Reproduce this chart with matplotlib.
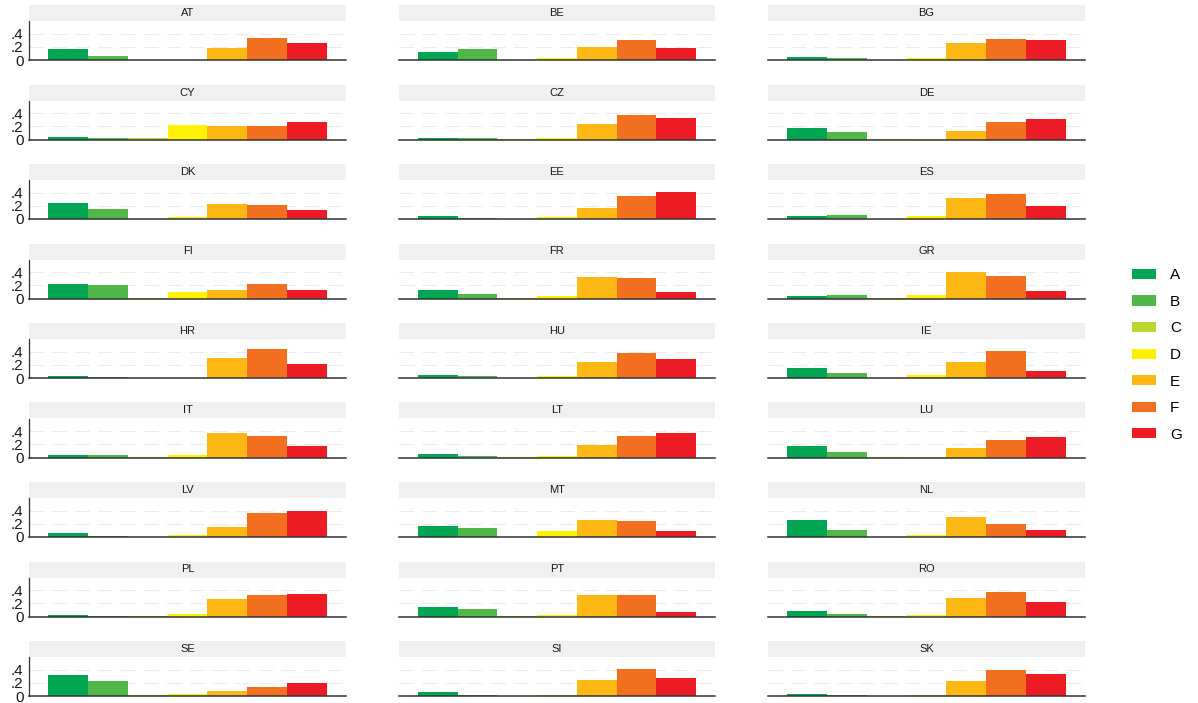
import matplotlib

matplotlib.use("Agg")
import matplotlib.pyplot as plt
from matplotlib.patches import Patch, Rectangle
from matplotlib.ticker import FixedLocator, FuncFormatter

plt.rcParams["font.family"] = ["Liberation Sans", "DejaVu Sans"]

# ---------------------------------------------------------------------------
# Data: share of dwellings per energy label, by country
# ---------------------------------------------------------------------------

countries = ["AT", "BE", "BG", "CY", "CZ", "DE", "DK", "EE", "ES",
             "FI", "FR", "GR", "HR", "HU", "IE", "IT", "LT", "LU",
             "LV", "MT", "NL", "PL", "PT", "RO", "SE", "SI", "SK"]
grades = ["A", "B", "C", "D", "E", "F", "G"]

share_A = [.167, .126, .045, .040, .025, .177, .247, .046, .046,
           .217, .133, .040, .030, .046, .144, .040, .060, .180,
           .060, .170, .260, .025, .149, .087, .320, .060, .030]
share_B = [.060, .167, .030, .025, .020, .106, .157, .015, .060,
           .202, .072, .050, .010, .036, .082, .036, .020, .087,
           .015, .138, .108, .005, .113, .036, .228, .015, .015]
share_C = [.005, .003, .005, .020, .003, .003, .005, .005, .005,
           .003, .003, .003, .005, .003, .005, .003, .003, .005,
           .005, .005, .005, .003, .003, .005, .015, .005, .005]
share_D = [.005, .030, .030, .220, .025, .015, .030, .026, .040,
           .096, .040, .050, .005, .030, .040, .036, .026, .005,
           .030, .092, .036, .036, .026, .026, .026, .008, .020]
share_E = [.187, .197, .260, .207, .230, .130, .227, .170, .313,
           .131, .328, .405, .310, .236, .236, .375, .190, .149,
           .154, .260, .300, .270, .318, .287, .078, .236, .230]
share_F = [.330, .300, .320, .207, .370, .260, .212, .354, .374,
           .217, .313, .333, .440, .374, .415, .330, .328, .270,
           .360, .240, .190, .320, .328, .364, .140, .415, .400]
share_G = [.250, .187, .300, .260, .330, .310, .136, .405, .200,
           .126, .097, .113, .210, .292, .113, .175, .374, .313,
           .390, .097, .108, .345, .072, .220, .197, .270, .338]

grade_colors = ["#00A651", "#50B848", "#BED630", "#FFF200",
                "#FDB813", "#F37021", "#ED1C24"]

y_ticks = [0, 0.2, 0.4]

# ---------------------------------------------------------------------------
# Layout (pixel geometry of the 3 x 9 facet grid)
# ---------------------------------------------------------------------------

W, H = 1198, 703
COLS = [(29, 346), (399, 715), (768, 1085)]
FIRST_BASE, ROW_STEP = 60, 79.5
PANEL_H, STRIP_H = 39, 16
PAD = 19 / 39.86          # outer padding in bar widths

shares = [share_A, share_B, share_C, share_D, share_E, share_F, share_G]

fig = plt.figure(figsize=(W / 100, H / 100), dpi=100)

for i, country in enumerate(countries):
    row, col = divmod(i, 3)
    x0, x1 = COLS[col]
    base = FIRST_BASE + row * ROW_STEP
    ax = fig.add_axes([x0 / W, 1 - base / H, (x1 - x0) / W, PANEL_H / H])

    values = [s[i] for s in shares]
    ax.bar(range(len(grades)), values, width=1.0, color=grade_colors,
           linewidth=0, zorder=2)

    ax.set_xlim(-0.5 - PAD, len(grades) - 0.5 + PAD)
    ax.set_ylim(0, 0.59)

    for y in y_ticks[1:]:
        ax.axhline(y, color="#EBEBEB", linewidth=0.75,
                   linestyle=(0, (14, 8)), zorder=1)

    ax.set_xticks([])
    ax.yaxis.set_major_locator(FixedLocator(y_ticks))
    ax.tick_params(axis="y", length=0, pad=4, labelsize=11, colors="#1a1a1a")
    if col == 0:
        ax.yaxis.set_major_formatter(
            FuncFormatter(lambda v, _: "0" if v == 0 else f"{v:.1f}".lstrip("0")))
    else:
        ax.set_yticklabels([])

    for side in ("top", "right"):
        ax.spines[side].set_visible(False)
    ax.spines["left"].set_visible(col == 0)
    ax.spines["left"].set_color("#333333")
    ax.spines["left"].set_linewidth(0.9)
    ax.spines["bottom"].set_color("#333333")
    ax.spines["bottom"].set_linewidth(1.1)
    ax.spines["bottom"].set_zorder(3)

    # facet strip
    strip_h = STRIP_H / PANEL_H
    ax.add_patch(Rectangle((0, 1), 1, strip_h, transform=ax.transAxes,
                           facecolor="#F0F0F0", edgecolor="none",
                           clip_on=False))
    ax.text(0.5, 1 + strip_h / 2, country, transform=ax.transAxes,
            ha="center", va="center", fontsize=8, color="#1a1a1a")

handles = [Patch(facecolor=c, edgecolor="none") for c in grade_colors]
fig.legend(handles, grades, loc="center left",
           bbox_to_anchor=(1124 / W, 1 - 355 / H), frameon=False,
           fontsize=11, handlelength=1.6, handleheight=0.65,
           handletextpad=0.9, labelspacing=0.82, borderpad=0)

fig.savefig("out.png", dpi=100)
